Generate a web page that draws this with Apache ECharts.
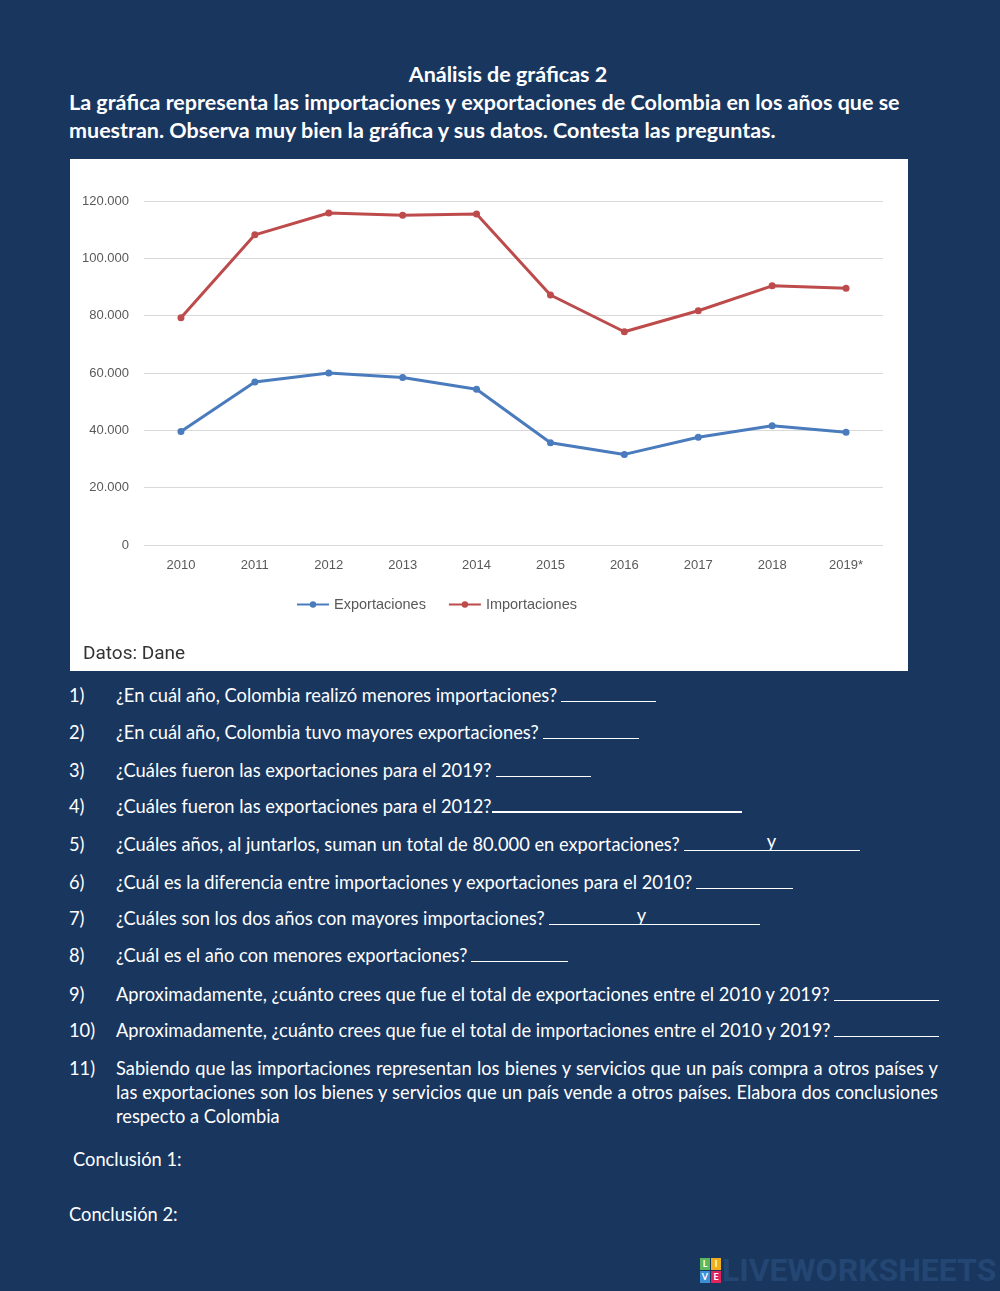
<!DOCTYPE html>
<html>
<head>
<meta charset="utf-8">
<script src="https://cdn.jsdelivr.net/npm/echarts@6/dist/echarts.min.js"></script>
<style>
  html, body { margin:0; padding:0; }
  body { width:1000px; height:1291px; background:#19365f; position:relative; overflow:hidden;
         font-family: Lato, "Open Sans", sans-serif; color:#fff; }
  .t { position:absolute; white-space:nowrap; line-height:24px; }
  .h { font-weight:bold; font-size:21.5px; }
  .q { font-size:18.3px; }
  .n { left:69px; }
  .x { left:116px; }
  .blank { display:inline-block; border-bottom:1px solid #fff; height:16px; vertical-align:baseline; position:relative; margin-left:4px; }
  .blank .y { position:absolute; bottom:-3px; }
  #chart { position:absolute; left:70px; top:159px; width:838px; height:512px; background:#fff; }
  .pl { position:absolute; left:116px; width:822px; font-size:18.3px; line-height:24px; white-space:nowrap; }
  .just { text-align:justify; text-align-last:justify; white-space:normal; }
  #logo { position:absolute; left:700px; top:1258px; }
  .sq { position:absolute; width:10px; height:12px; font-size:9px; font-weight:bold; line-height:12px; text-align:center; color:#fff; }
  .lw { position:absolute; left:22px; top:-7px; font-family:"Liberation Sans Narrow", "Roboto", sans-serif; font-weight:bold; font-size:32px; color:#244673; white-space:nowrap; }
</style>
</head>
<body>
<div class="t h" style="left:0;width:1016px;text-align:center;top:62px;">Análisis de gráficas 2</div>
<div class="t h" style="left:69px;top:90px;">La gráfica representa las importaciones y exportaciones de Colombia en los años que se</div>
<div class="t h" style="left:69px;top:118px;">muestran. Observa muy bien la gráfica y sus datos. Contesta las preguntas.</div>

<div id="chart"></div>

<div class="t q n" style="top:683px;">1)</div>
<div class="t q x" style="top:683px;">¿En cuál año, Colombia realizó menores importaciones?<span class="blank" style="width:95px"></span></div>
<div class="t q n" style="top:720px;">2)</div>
<div class="t q x" style="top:720px;">¿En cuál año, Colombia tuvo mayores exportaciones?<span class="blank" style="width:96px"></span></div>
<div class="t q n" style="top:758px;">3)</div>
<div class="t q x" style="top:758px;">¿Cuáles fueron las exportaciones para el 2019?<span class="blank" style="width:95px"></span></div>
<div class="t q n" style="top:794px;">4)</div>
<div class="t q x" style="top:794px;">¿Cuáles fueron las exportaciones para el 2012?<span class="blank" style="width:250px;margin-left:0;border-bottom-width:2px"></span></div>
<div class="t q n" style="top:832px;">5)</div>
<div class="t q x" style="top:832px;">¿Cuáles años, al juntarlos, suman un total de 80.000 en exportaciones?<span class="blank" style="width:176px"><span class="y" style="left:83px">y</span></span></div>
<div class="t q n" style="top:870px;">6)</div>
<div class="t q x" style="top:870px;">¿Cuál es la diferencia entre importaciones y exportaciones para el 2010?<span class="blank" style="width:97px"></span></div>
<div class="t q n" style="top:906px;">7)</div>
<div class="t q x" style="top:906px;">¿Cuáles son los dos años con mayores importaciones?<span class="blank" style="width:211px"><span class="y" style="left:88px">y</span></span></div>
<div class="t q n" style="top:943px;">8)</div>
<div class="t q x" style="top:943px;">¿Cuál es el año con menores exportaciones?<span class="blank" style="width:97px"></span></div>
<div class="t q n" style="top:982px;">9)</div>
<div class="t q x" style="top:982px;">Aproximadamente, ¿cuánto crees que fue el total de exportaciones entre el 2010 y 2019?<span class="blank" style="width:105px"></span></div>
<div class="t q n" style="top:1018px;">10)</div>
<div class="t q x" style="top:1018px;">Aproximadamente, ¿cuánto crees que fue el total de importaciones entre el 2010 y 2019?<span class="blank" style="width:105px"></span></div>
<div class="t q n" style="top:1056px;">11)</div>
<div class="pl just" style="top:1056px;">Sabiendo que las importaciones representan los bienes y servicios que un país compra a otros países y</div>
<div class="pl just" style="top:1080px;">las exportaciones son los bienes y servicios que un país vende a otros países. Elabora dos conclusiones</div>
<div class="pl" style="top:1104px;">respecto a Colombia</div>

<div class="t q" style="left:73px;top:1147px;">Conclusión 1:</div>
<div class="t q" style="left:69px;top:1202px;">Conclusión 2:</div>

<div id="logo">
  <div class="sq" style="left:0;top:0;background:#5cb85c;">L</div>
  <div class="sq" style="left:11px;top:0;background:#f0ad1e;">I</div>
  <div class="sq" style="left:0;top:13px;background:#3d8fd6;">V</div>
  <div class="sq" style="left:11px;top:13px;background:#e0245e;">E</div>
  <div class="lw">LIVEWORKSHEETS</div>
</div>

<script>
const years = ['2010','2011','2012','2013','2014','2015','2016','2017','2018','2019*'];
const exportaciones = [39600, 56900, 60000, 58400, 54300, 35700, 31600, 37600, 41600, 39300];
const importaciones = [79300, 108200, 115800, 115000, 115500, 87200, 74400, 81700, 90400, 89600];
const seriesNames = ['Exportaciones', 'Importaciones'];
const yMin = 0, yMax = 120000, yStep = 20000;

const chart = echarts.init(document.getElementById('chart'), null, {renderer:'canvas'});
const labelColor = '#595959';
chart.setOption({
  animation: false,
  backgroundColor: '#ffffff',
  title: {
    text: 'Datos: Dane', left: 8, top: 481,
    textStyle: { fontFamily: 'Roboto, sans-serif', fontWeight: 'normal', fontSize: 19, color: '#333333' }
  },
  grid: { left: 74, right: 25, top: 42, bottom: 126, containLabel: false },
  legend: {
    left: 221, top: 433, itemWidth: 32, itemHeight: 8, itemGap: 22,
    data: seriesNames,
    textStyle: { color: labelColor, fontSize: 14.5, fontFamily: '"Liberation Sans", sans-serif' }
  },
  xAxis: {
    type: 'category', data: years, boundaryGap: true,
    axisLine: { show: false }, axisTick: { show: false },
    axisLabel: { color: labelColor, fontSize: 13, margin: 14, fontFamily: '"Liberation Sans", sans-serif' }
  },
  yAxis: {
    type: 'value', min: yMin, max: yMax, interval: yStep,
    axisLine: { show: false }, axisTick: { show: false },
    splitLine: { lineStyle: { color: '#d9d9d9', width: 1 } },
    axisLabel: {
      color: labelColor, fontSize: 13, margin: 15, fontFamily: '"Liberation Sans", sans-serif',
      formatter: v => v === 0 ? '0' : String(v).replace(/\B(?=(\d{3})+(?!\d))/g, '.')
    }
  },
  series: [
    { name: seriesNames[0], type: 'line', data: exportaciones, symbol: 'circle', symbolSize: 7,
      lineStyle: { color: '#4a7bbd', width: 3 }, itemStyle: { color: '#4a7bbd' } },
    { name: seriesNames[1], type: 'line', data: importaciones, symbol: 'circle', symbolSize: 7,
      lineStyle: { color: '#be4b4b', width: 3 }, itemStyle: { color: '#be4b4b' } }
  ]
});
</script>
</body>
</html>
